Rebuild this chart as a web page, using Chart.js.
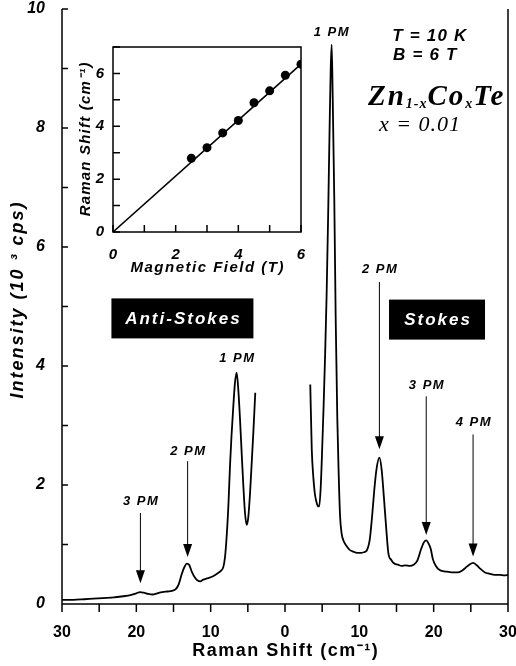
<!DOCTYPE html>
<html>
<head>
<meta charset="utf-8">
<script src="https://cdn.jsdelivr.net/npm/chart.js@4.4.0/dist/chart.umd.min.js"></script>
<style>
  html, body { margin: 0; padding: 0; background: #fff; }
  #wrap { position: relative; width: 516px; height: 666px; }
  #mainChart { position: absolute; left: 0; top: 0; }
  #insetChart { position: absolute; left: 60px; top: 30px; }
</style>
</head>
<body>
<div id="wrap">
  <canvas id="mainChart" width="516" height="666"></canvas>
  <canvas id="insetChart" width="260" height="260"></canvas>
</div>
<script>
// anti-Stokes side (plotted at negative shift, axis shows absolute value)
const asShift = [-30, -28.5, -27, -25.8, -24.5, -23, -21.8, -20.8, -20, -19.5,
  -19, -18.4, -17.8, -17.2, -16.5, -15.8, -15.2, -14.7, -14.3, -13.9,
  -13.5, -13.2, -12.9, -12.5, -12.1, -11.8, -11.4, -11, -10.5, -10,
  -9.5, -9, -8.6, -8.3, -8.07, -7.85, -7.6, -7.4, -7.2, -6.95,
  -6.73, -6.5, -6.28, -6.05, -5.83, -5.6, -5.38, -5.15, -4.93, -4.7,
  -4.48, -4.26, -4.0];
const asIntensity = [0.07, 0.07, 0.08, 0.09, 0.1, 0.11, 0.13, 0.15, 0.18, 0.2,
  0.19, 0.17, 0.16, 0.18, 0.2, 0.21, 0.22, 0.25, 0.33, 0.5,
  0.63, 0.68, 0.66, 0.53, 0.44, 0.4, 0.38, 0.41, 0.43, 0.45,
  0.48, 0.52, 0.56, 0.62, 0.79, 1.13, 1.7, 2.32, 2.82, 3.33,
  3.72, 3.89, 3.6, 3.1, 2.54, 1.98, 1.53, 1.33, 1.47, 1.87,
  2.37, 2.88, 3.55];

// Stokes side
const stShift = [3.4, 3.6, 3.8, 4.0, 4.2, 4.4, 4.6, 4.8, 5.0, 5.2,
  5.4, 5.6, 5.8, 6.0, 6.15, 6.28, 6.42, 6.63, 6.82, 7.04,
  7.22, 7.4, 7.6, 7.85, 8.3, 8.7, 9.2, 9.7, 10.2, 10.6,
  11.0, 11.4, 11.7, 12.0, 12.3, 12.7, 13.0, 13.3, 13.6, 13.9,
  14.3, 14.7, 15.2, 15.7, 16.2, 16.8, 17.3, 17.8, 18.3, 18.7,
  19.0, 19.3, 19.6, 19.9, 20.3, 20.8, 21.4, 22.0, 22.6, 23.2,
  23.8, 24.3, 24.8, 25.3, 25.8, 26.3, 26.9, 27.5, 28.2, 28.9,
  29.5, 30];
const stIntensity = [3.69, 2.6, 2.15, 1.87, 1.73, 1.65, 1.64, 1.95, 2.6, 3.35,
  4.2, 5.2, 6.5, 8.0, 9.0, 9.4, 8.5, 6.81, 4.79, 3.1,
  2.2, 1.5, 1.2, 1.07, 0.97, 0.91, 0.88, 0.86, 0.86, 0.87,
  0.9, 1.08, 1.45, 1.9, 2.26, 2.46, 2.26, 1.8, 1.3, 0.86,
  0.74, 0.68, 0.66, 0.64, 0.65, 0.64, 0.66, 0.73, 0.92, 1.04,
  1.07, 1.02, 0.93, 0.75, 0.64, 0.57, 0.55, 0.54, 0.53, 0.53,
  0.56, 0.61, 0.66, 0.69, 0.65, 0.59, 0.53, 0.51, 0.49, 0.49,
  0.48, 0.49];

// inset: peak shift vs field
const fieldT = [2.5, 3, 3.5, 4, 4.5, 5, 5.5, 6];
const peakShift = [2.79, 3.19, 3.75, 4.22, 4.89, 5.34, 5.93, 6.35];
const fitField = [0, 6];
const fitShift = [0, 6.35];

// peak labels: [text, shift, label y, arrow top, arrow tip] (arrow null = no arrow)
const peakLabels = [
  ['3 PM', -19.45, 1.72, 1.53, 0.35],
  ['2 PM', -13.1, 2.57, 2.40, 0.79],
  ['1 PM', -6.5, 4.13, null, null],
  ['1 PM', 6.2, 9.61, null, null],
  ['2 PM', 12.7, 5.62, 5.41, 2.6],
  ['3 PM', 19.0, 3.68, 3.49, 1.16],
  ['4 PM', 25.3, 3.06, 2.85, 0.8]
];
const sideBoxes = [
  ['Anti-Stokes', -13.8, 4.8, 142],
  ['Stokes', 20.45, 4.78, 96]
];

const sans = '"Liberation Sans", Arial, sans-serif';
const serif = '"Liberation Serif", "Times New Roman", serif';

function toPoints(xs, ys) {
  return xs.map((x, i) => ({ x: x, y: ys[i] }));
}

function spacedText(ctx, text, x, y, spacing) {
  ctx.letterSpacing = spacing + 'px';
  ctx.fillText(text, x + spacing / 2, y);
  ctx.letterSpacing = '0px';
}

function noOverflowX(s, h) {
  s.height = h;
  s.paddingLeft = 0;
  s.paddingRight = 0;
}
function noOverflowY(s, w) {
  s.width = w;
  s.paddingTop = 0;
  s.paddingBottom = 0;
}

const mainFrame = {
  id: 'mainFrame',
  afterDatasetsDraw(chart) {
    const { ctx, chartArea: a, scales: { x, y } } = chart;
    ctx.save();
    ctx.strokeStyle = '#000';
    ctx.lineWidth = 1.5;
    ctx.beginPath();
    ctx.moveTo(a.left, a.top);
    ctx.lineTo(a.left, a.bottom);
    ctx.lineTo(a.right, a.bottom);
    ctx.lineTo(a.right, a.top);
    y.ticks.forEach(t => {
      const py = y.getPixelForValue(t.value);
      ctx.moveTo(a.left, py);
      ctx.lineTo(a.left + 6, py);
    });
    x.ticks.forEach(t => {
      const px = x.getPixelForValue(t.value);
      ctx.moveTo(px, a.bottom);
      ctx.lineTo(px, a.bottom + 8);
    });
    ctx.stroke();
    ctx.restore();
  }
};

const mainNotes = {
  id: 'mainNotes',
  afterDraw(chart) {
    const { ctx, chartArea: a, scales: { x, y } } = chart;
    ctx.save();
    ctx.fillStyle = '#000';
    ctx.strokeStyle = '#000';
    ctx.lineWidth = 1;
    ctx.textAlign = 'center';
    ctx.textBaseline = 'middle';

    // peak labels and arrows
    ctx.font = 'italic bold 13px ' + sans;
    peakLabels.forEach(p => {
      const px = x.getPixelForValue(p[1]);
      spacedText(ctx, p[0], px, y.getPixelForValue(p[2]), 1.5);
      if (p[3] !== null) {
        const top = y.getPixelForValue(p[3]);
        const tip = y.getPixelForValue(p[4]);
        ctx.beginPath();
        ctx.moveTo(px, top);
        ctx.lineTo(px, tip - 10);
        ctx.stroke();
        ctx.beginPath();
        ctx.moveTo(px - 4.5, tip - 13);
        ctx.lineTo(px + 4.5, tip - 13);
        ctx.lineTo(px, tip);
        ctx.closePath();
        ctx.fill();
      }
    });

    // black boxes
    sideBoxes.forEach(b => {
      const cx = x.getPixelForValue(b[1]);
      const cy = y.getPixelForValue(b[2]);
      ctx.fillStyle = '#000';
      ctx.fillRect(cx - b[3] / 2, cy - 20, b[3], 40);
      ctx.fillStyle = '#fff';
      ctx.font = 'italic bold 17px ' + sans;
      spacedText(ctx, b[0], cx, cy + 1, 2);
    });
    ctx.fillStyle = '#000';

    // conditions
    ctx.font = 'italic bold 17px ' + sans;
    spacedText(ctx, 'T = 10 K', x.getPixelForValue(19.4), y.getPixelForValue(9.54), 1.2);
    spacedText(ctx, 'B = 6 T', x.getPixelForValue(18.8), y.getPixelForValue(9.22), 1.2);

    // formula Zn(1-x)Co(x)Te
    const parts = [['Zn', 0], ['1-x', 1], ['Co', 0], ['x', 1], ['Te', 0]];
    const big = 'italic bold 29px ' + serif;
    const small = 'italic bold 14px ' + serif;
    ctx.textAlign = 'left';
    ctx.textBaseline = 'alphabetic';
    let total = 0;
    parts.forEach(p => {
      ctx.font = p[1] ? small : big;
      ctx.letterSpacing = (p[1] ? 1 : 2) + 'px';
      total += ctx.measureText(p[0]).width;
    });
    let fx = x.getPixelForValue(20.4) - total / 2;
    const fy = y.getPixelForValue(8.55);
    parts.forEach(p => {
      ctx.font = p[1] ? small : big;
      ctx.letterSpacing = (p[1] ? 1 : 2) + 'px';
      ctx.fillText(p[0], fx, fy + (p[1] ? 13 : 10));
      fx += ctx.measureText(p[0]).width;
    });
    ctx.letterSpacing = '0px';
    ctx.textAlign = 'center';
    ctx.textBaseline = 'middle';
    ctx.font = 'italic 22px ' + serif;
    spacedText(ctx, 'x = 0.01', x.getPixelForValue(18.1), y.getPixelForValue(8.05), 1);

    // axis titles
    ctx.font = 'bold 18px ' + sans;
    spacedText(ctx, 'Raman Shift (cm\u207B\u00B9)', x.getPixelForValue(0), 651, 1.5);
    ctx.translate(18, y.getPixelForValue(5.1));
    ctx.rotate(-Math.PI / 2);
    ctx.font = 'italic bold 18px ' + sans;
    spacedText(ctx, 'Intensity (10 \u00B3 cps)', 0, 0, 2);
    ctx.restore();
  }
};

const mainChart = new Chart(document.getElementById('mainChart'), {
  type: 'line',
  data: {
    datasets: [
      { data: toPoints(asShift, asIntensity), borderColor: '#000', borderWidth: 1.8,
        pointRadius: 0, cubicInterpolationMode: 'monotone', fill: false },
      { data: toPoints(stShift, stIntensity), borderColor: '#000', borderWidth: 1.8,
        pointRadius: 0, cubicInterpolationMode: 'monotone', fill: false }
    ]
  },
  options: {
    responsive: false,
    animation: false,
    layout: { padding: { left: 0, right: 8, top: 9, bottom: 0 } },
    plugins: { legend: { display: false }, tooltip: { enabled: false } },
    scales: {
      x: {
        type: 'linear', min: -30, max: 30,
        grid: { display: false }, border: { display: false },
        ticks: {
          stepSize: 5, autoSkip: false, maxRotation: 0, padding: 11, color: '#000',
          font: { family: sans, size: 16, weight: 'bold' },
          callback: v => (v % 10 === 0 ? String(Math.abs(v)) : '')
        },
        afterFit: s => noOverflowX(s, 62)
      },
      y: {
        min: 0, max: 10,
        grid: { display: false }, border: { display: false },
        ticks: {
          stepSize: 1, autoSkip: false, padding: 9, color: '#000',
          font: { family: sans, size: 16, weight: 'bold', style: 'italic' },
          callback: v => (v % 2 === 0 ? String(v) : '')
        },
        afterFit: s => noOverflowY(s, 62)
      }
    }
  },
  plugins: [mainFrame, mainNotes]
});

const insetFrame = {
  id: 'insetFrame',
  afterDatasetsDraw(chart) {
    const { ctx, chartArea: a, scales: { x, y } } = chart;
    ctx.save();
    ctx.strokeStyle = '#000';
    ctx.lineWidth = 1.5;
    ctx.strokeRect(a.left, a.top, a.right - a.left, a.bottom - a.top);
    ctx.beginPath();
    y.ticks.forEach(t => {
      const py = y.getPixelForValue(t.value);
      ctx.moveTo(a.left, py);
      ctx.lineTo(a.left + 7, py);
    });
    x.ticks.forEach(t => {
      const px = x.getPixelForValue(t.value);
      ctx.moveTo(px, a.bottom);
      ctx.lineTo(px, a.bottom - 7);
    });
    ctx.stroke();

    ctx.fillStyle = '#000';
    ctx.textAlign = 'center';
    ctx.textBaseline = 'middle';
    ctx.font = 'italic bold 15px ' + sans;
    spacedText(ctx, 'Magnetic Field (T)', (a.left + a.right) / 2, 238, 1.5);
    ctx.translate(26, (a.top + a.bottom) / 2);
    ctx.rotate(-Math.PI / 2);
    spacedText(ctx, 'Raman Shift (cm\u207B\u00B9)', 0, 0, 1.2);
    ctx.restore();
  }
};

const insetChart = new Chart(document.getElementById('insetChart'), {
  type: 'scatter',
  data: {
    datasets: [
      { data: toPoints(fieldT, peakShift), backgroundColor: '#000', borderColor: '#000',
        pointRadius: 4.5, pointBorderWidth: 0 },
      { type: 'line', data: toPoints(fitField, fitShift), borderColor: '#000',
        borderWidth: 1.5, pointRadius: 0, fill: false }
    ]
  },
  options: {
    responsive: false,
    animation: false,
    layout: { padding: { left: 0, right: 19, top: 17, bottom: 0 } },
    plugins: { legend: { display: false }, tooltip: { enabled: false } },
    scales: {
      x: {
        type: 'linear', min: 0, max: 6,
        grid: { display: false }, border: { display: false },
        ticks: {
          stepSize: 1, autoSkip: false, maxRotation: 0, padding: 6, color: '#000',
          font: { family: sans, size: 15, weight: 'bold', style: 'italic' },
          callback: v => (v % 2 === 0 ? String(v) : '')
        },
        afterFit: s => noOverflowX(s, 58)
      },
      y: {
        min: 0, max: 7,
        grid: { display: false }, border: { display: false },
        ticks: {
          stepSize: 1, autoSkip: false, padding: 1, color: '#000',
          font: { family: sans, size: 15, weight: 'bold', style: 'italic' },
          callback: v => (v % 2 === 0 ? String(v) : '')
        },
        afterFit: s => noOverflowY(s, 53)
      }
    }
  },
  plugins: [insetFrame]
});
</script>
</body>
</html>
